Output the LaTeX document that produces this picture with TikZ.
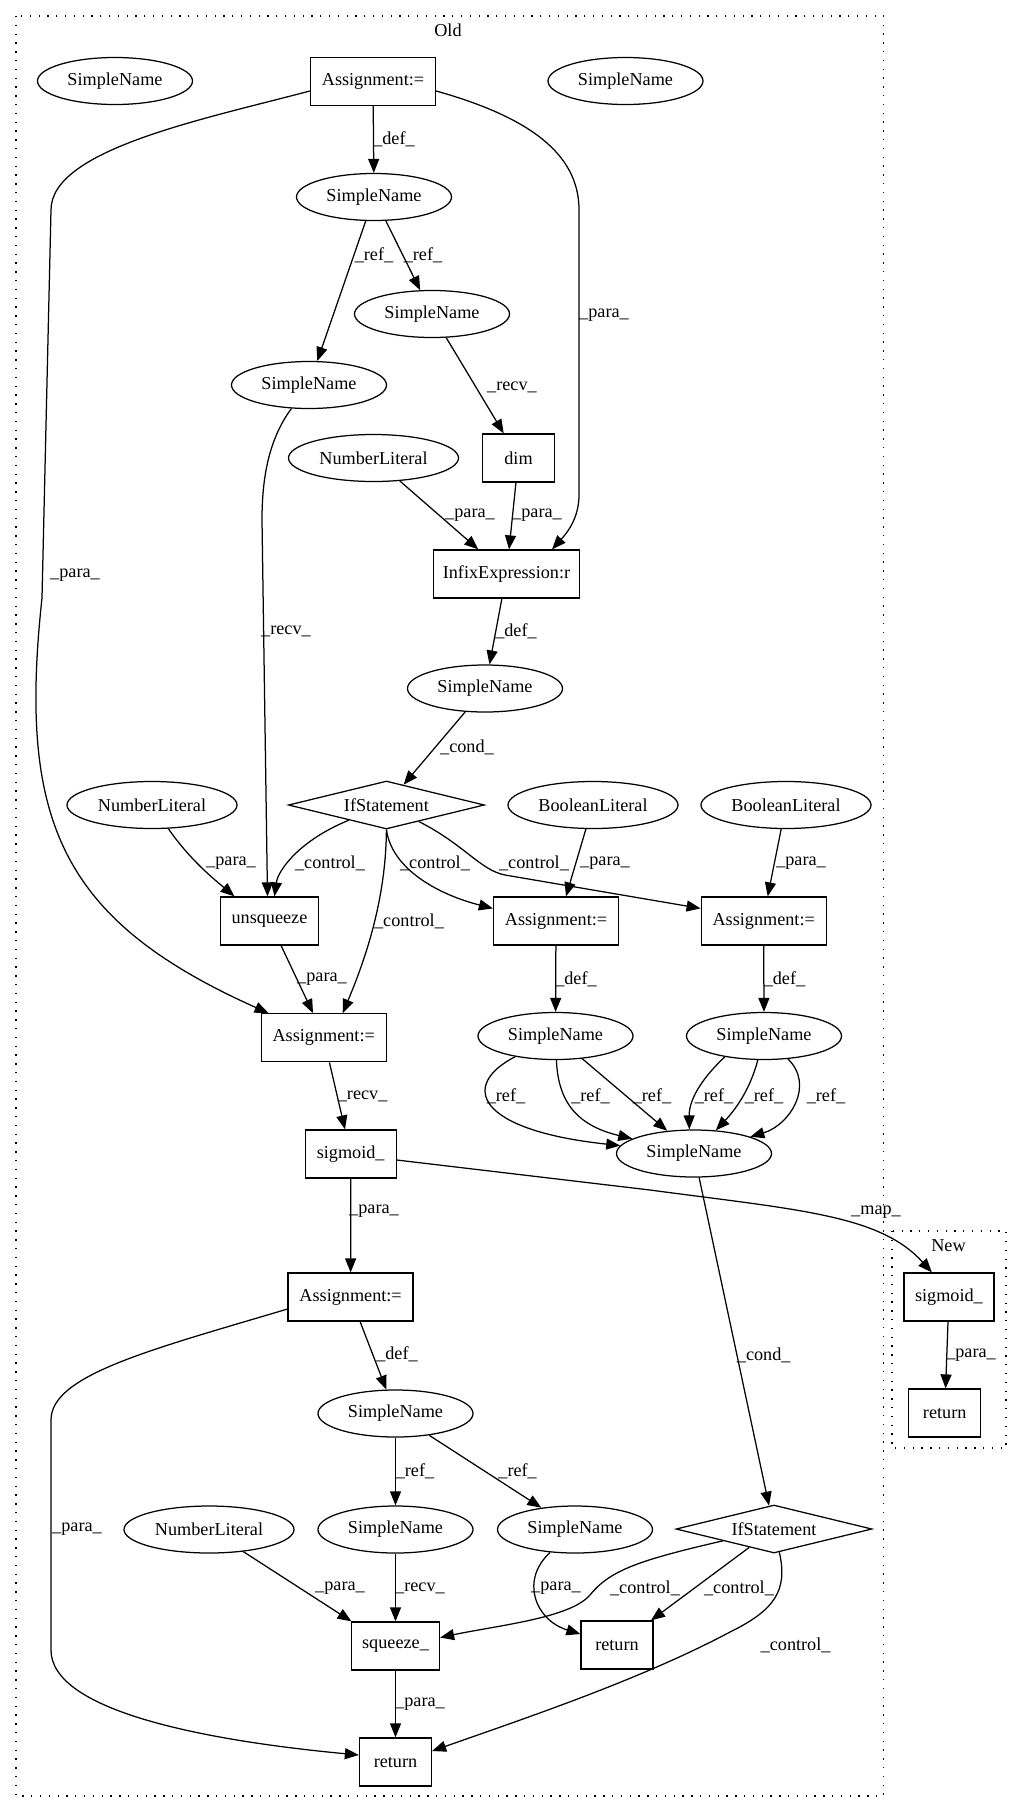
\documentclass[tikz,border=0pt]{standalone}
\usepackage{fontspec}
\setmainfont{Liberation Serif}
\usetikzlibrary{shapes.geometric,arrows.meta}
\newcommand\gvf{\fontsize{18.2}{21}\selectfont}
\begin{document}
\begin{tikzpicture}[x=1pt,y=-1pt,
  every node/.style={font=\gvf},
  ell/.style={draw,ellipse,line width=1.25pt,minimum width=155pt,minimum height=47pt,inner sep=0pt},
  lit/.style={ell,minimum width=170pt},
  box/.style={draw,rectangle,line width=1.25pt,minimum height=48pt,inner sep=0pt},
  dia/.style={draw,diamond,shape aspect=4.08,minimum width=196pt,minimum height=48pt,inner sep=0pt,line width=1.25pt},
  edge/.style={line width=1.25pt,-{Triangle[length=14pt,width=11pt]}},
  lbl/.style={inner sep=0pt},
  cluster/.style={draw,line width=1.3pt,dash pattern=on 1.3pt off 7.5pt}]
\useasboundingbox (0,0) rectangle (1021,1812);
\fill[white] (0,0) rectangle (1021,1812);
% clusters
\draw[cluster] (16,16) rectangle (883.5,1796);
\node[lbl] (oldlbl) at (448,30) {Old};
\draw[cluster] (892,1231) rectangle (1006,1448);
\node[lbl] (newlbl) at (948.5,1246) {New};
% nodes
\node[ell] (snTL) at (115,81) {SimpleName};
\node[box,minimum width=125pt] (asgTop) at (373,81.5) {Assignment:=};
\node[ell] (snTR) at (625.5,81) {SimpleName};
\node[ell] (snDef) at (374,197) {SimpleName};
\node[ell] (snR1) at (432,314) {SimpleName};
\node[ell] (snL1) at (309,385) {SimpleName};
\node[lit] (nl1) at (373.5,458) {NumberLiteral};
\node[box,minimum width=72pt] (dim) at (518.5,458) {dim};
\node[box,minimum width=146pt] (infix) at (506.5,574) {InfixExpression:r};
\node[ell] (snCond) at (485,688.5) {SimpleName};
\node[dia] (if1) at (386.4,805) {IfStatement};
\node[lit] (nl2) at (152,805) {NumberLiteral};
\node[lit] (bl1) at (593,805) {BooleanLiteral};
\node[lit] (bl2) at (786,805) {BooleanLiteral};
\node[box,minimum width=98pt] (unsq) at (269.5,921) {unsqueeze};
\node[box,minimum width=125pt] (asgMid) at (556,921) {Assignment:=};
\node[box,minimum width=125pt] (asgRight) at (763.7,921) {Assignment:=};
\node[box,minimum width=125pt] (asgLeft) at (323.7,1037.8) {Assignment:=};
\node[ell] (snMid) at (555.5,1036) {SimpleName};
\node[ell] (snRight) at (764,1036) {SimpleName};
\node[box,minimum width=91pt] (sig) at (350.7,1154) {sigmoid\_};
\node[ell] (snRef) at (694,1153.5) {SimpleName};
\node[box,minimum width=125pt] (asgBot) at (350.6,1297) {Assignment:=};
\node[ell] (snBot) at (395.5,1413.5) {SimpleName};
\node[lit] (nl3) at (209,1529.5) {NumberLiteral};
\node[ell] (snB1) at (395.5,1529.5) {SimpleName};
\node[ell] (snB2) at (575,1529.5) {SimpleName};
\node[dia] (if2) at (774,1529) {IfStatement};
\node[box,minimum width=88pt] (sq) at (395.5,1646) {squeeze\_};
\node[box,minimum width=72pt] (ret1) at (617,1645) {return};
\node[box,minimum width=72pt] (ret2) at (395.5,1762) {return};
\node[box,minimum width=90pt] (newSig) at (948.9,1297) {sigmoid\_};
\node[box,minimum width=72pt] (newRet) at (944.7,1413) {return};
% edges
\draw[edge] (asgTop) -- (snDef);
\draw[edge] ([yshift=-9.5pt]asgTop.east) .. controls (540,120) and (579,160) .. (579,210) -- (579,495) .. controls (579,520) and (565,535) .. ([xshift=45.5pt]infix.north);
\draw[edge] ([yshift=-9.5pt]asgTop.west) .. controls (200,120) and (51,150) .. (51,210) -- (42,598) .. controls (18,820) and (60,920) .. (asgLeft);
\draw[edge] (snDef) -- (snR1);
\draw[edge] (snDef) -- (snL1);
\draw[edge] (snR1) -- (dim);
\draw[edge] (snL1) .. controls (268,440) and (262,480) .. (262,520) -- ([xshift=-2pt]unsq.north);
\draw[edge] (nl1) -- (infix);
\draw[edge] (dim) -- (infix);
\draw[edge] (infix) -- (snCond);
\draw[edge] (snCond) -- (if1);
\draw[edge] (if1) .. controls (300,840) and (278,870) .. ([xshift=5pt]unsq.north);
\draw[edge] (if1.south) .. controls (386,900) and (365,960) .. ([xshift=19pt]asgLeft.north);
\draw[edge] (if1.south) .. controls (392,870) and (440,895) .. ([yshift=12.6pt]asgMid.west);
\draw[edge] (if1) .. controls (465,845) and (480,870) .. (505,875) -- ([yshift=12.6pt]asgRight.west);
\draw[edge] (nl2) .. controls (190,860) and (215,880) .. ([xshift=-35pt]unsq.north);
\draw[edge] (bl1) -- ([xshift=10pt]asgMid.north);
\draw[edge] (bl2) -- ([xshift=4pt]asgRight.north);
\draw[edge] (unsq) -- ([xshift=-10.7pt]asgLeft.north);
\draw[edge] (asgMid) -- (snMid);
\draw[edge] (asgRight) -- (snRight);
\draw[edge] (asgLeft) -- (sig);
\draw[edge] (snMid) .. controls (460,1085) and (475,1130) .. (snRef);
\draw[edge] (snMid) .. controls (558,1100) and (575,1125) .. (snRef);
\draw[edge] (snMid) -- (snRef);
\draw[edge] (snRight.208) .. controls (695,1085) and (689,1105) .. (snRef.101);
\draw[edge] (snRight) .. controls (750,1090) and (735,1110) .. (snRef);
\draw[edge] (snRight) .. controls (815,1085) and (790,1125) .. (snRef);
\draw[edge] (sig) -- (asgBot);
\draw[edge] ([yshift=-6pt]sig.east) -- (650,1190) .. controls (800,1210) and (880,1215) .. ([xshift=-17pt]newSig.north);
\draw[edge] (snRef) -- (if2);
\draw[edge] (asgBot) -- (snBot);
\draw[edge] ([yshift=-12pt]asgBot.west) .. controls (150,1350) and (51,1375) .. (51,1420) -- (51,1650) .. controls (51,1710) and (200,1740) .. ([yshift=7pt]ret2.west);
\draw[edge] (snBot) -- (snB1);
\draw[edge] (snBot) -- (snB2);
\draw[edge] (nl3) -- ([xshift=-44pt]sq.north);
\draw[edge] (snB1) -- (sq);
\draw[edge] (snB2) .. controls (520,1580) and (535,1620) .. ([yshift=11pt]ret1.west);
\draw[edge] (if2) .. controls (640,1560) and (610,1570) .. (590,1595) .. controls (570,1618) and (500,1625) .. ([yshift=8.5pt]sq.east);
\draw[edge] (if2) -- ([xshift=34pt]ret1.north);
\draw[edge] (if2) .. controls (788,1590) and (775,1610) .. (730,1632) .. controls (640,1680) and (520,1720) .. ([yshift=11pt]ret2.east);
\draw[edge] (sq) -- (ret2);
\draw[edge] (newSig) -- (newRet);
% edge labels
\node[lbl] (l1) at (394,139) {\_def\_};
\node[lbl] (l2) at (374,255) {\_ref\_};
\node[lbl] (l3) at (423,255) {\_ref\_};
\node[lbl] (l4) at (604,315) {\_para\_};
\node[lbl] (l5) at (512,387) {\_recv\_};
\node[lbl] (l6) at (470,515) {\_para\_};
\node[lbl] (l7) at (537,515) {\_para\_};
\node[lbl] (l8) at (75,575) {\_para\_};
\node[lbl] (l9) at (286,631) {\_recv\_};
\node[lbl] (l10) at (516,631) {\_def\_};
\node[lbl] (l11) at (467,747) {\_cond\_};
\node[lbl] (l12) at (231,863) {\_para\_};
\node[lbl] (l13) at (330,863) {\_control\_};
\node[lbl] (l14) at (435,863) {\_control\_};
\node[lbl] (l15) at (534,863) {\_control\_};
\node[lbl] (l16) at (605,863) {\_para\_};
\node[lbl] (l17) at (801,863) {\_para\_};
\node[lbl] (l18) at (409,921) {\_control\_};
\node[lbl] (l19) at (322,979) {\_para\_};
\node[lbl] (l20) at (576,979) {\_def\_};
\node[lbl] (l21) at (784.5,979) {\_def\_};
\node[lbl] (l22) at (362.6,1096) {\_recv\_};
\node[lbl] (l23) at (506,1096) {\_ref\_};
\node[lbl] (l24) at (590.5,1096) {\_ref\_};
\node[lbl] (l25) at (652,1096) {\_ref\_};
\node[lbl] (l26) at (714,1096) {\_ref\_};
\node[lbl] (l27) at (764,1096) {\_ref\_};
\node[lbl] (l28) at (826,1096) {\_ref\_};
\node[lbl] (l29) at (374,1211) {\_para\_};
\node[lbl] (l30) at (876,1212) {\_map\_};
\node[lbl] (l31) at (763.7,1355) {\_cond\_};
\node[lbl] (l32) at (397,1354) {\_def\_};
\node[lbl] (l33) at (971,1355.5) {\_para\_};
\node[lbl] (l34) at (415,1471) {\_ref\_};
\node[lbl] (l35) at (517.6,1471) {\_ref\_};
\node[lbl] (l36) at (77,1529) {\_para\_};
\node[lbl] (l37) at (340,1588) {\_para\_};
\node[lbl] (l38) at (420,1588) {\_recv\_};
\node[lbl] (l39) at (556,1588) {\_para\_};
\node[lbl] (l40) at (645,1588) {\_control\_};
\node[lbl] (l41) at (739,1588) {\_control\_};
\node[lbl] (l42) at (795.6,1645) {\_control\_};
\node[lbl] (l43) at (420,1704) {\_para\_};
\end{tikzpicture}
\end{document}
